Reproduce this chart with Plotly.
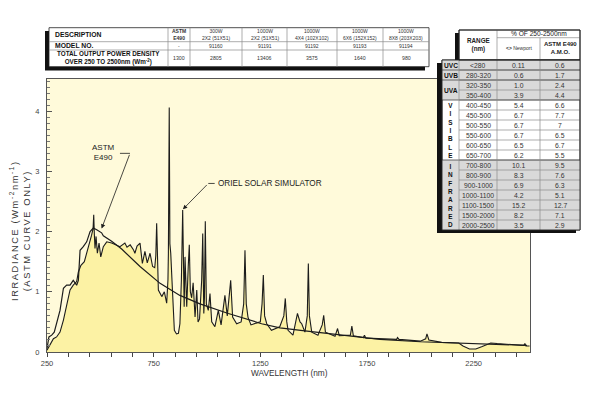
import plotly.graph_objects as go

# ---------------- data ----------------
sim_nm = [250, 264, 280, 295, 311, 327, 342, 358, 373, 389, 397, 409, 425, 436, 447, 459, 466, 469, 472,
          475, 480, 486, 494, 502, 514, 530, 553, 570, 592, 615, 625, 640, 655, 662, 672, 686, 697, 709,
          720, 733, 745, 755, 760, 764, 768, 772, 788, 800, 811, 817, 819, 823, 826, 830, 838, 847, 857,
          866, 873, 880, 886, 890, 893, 897, 901, 905, 912, 917, 922, 928, 935, 944, 952, 958, 965, 975,
          980, 985, 988, 992, 997, 1006, 1014, 1022, 1037, 1053, 1066, 1084, 1095, 1111, 1120, 1139, 1160,
          1172, 1178, 1184, 1192, 1206, 1230, 1250, 1258, 1264, 1270, 1280, 1302, 1341, 1360, 1367, 1374,
          1380, 1403, 1415, 1424, 1436, 1444, 1459, 1470, 1475, 1480, 1491, 1520, 1540, 1547, 1555, 1600,
          1612, 1620, 1672, 1679, 1686, 1733, 1738, 1745, 1889, 1893, 1900, 2000, 2025, 2031, 2040, 2100,
          2180, 2200, 2230, 2260, 2290, 2330, 2360, 2450, 2485, 2490, 2495, 2512]
sim_val = [0.03, 0.11, 0.22, 0.25, 0.33, 0.53, 0.75, 1.03, 1.11, 1.17, 1.33, 1.44, 1.50, 1.64, 1.75, 1.94,
           2.05, 2.28, 1.95, 1.72, 1.92, 1.64, 1.81, 1.58, 1.75, 1.83, 1.81, 1.78, 1.75, 1.81, 1.74, 1.78,
           1.70, 1.64, 1.76, 1.81, 1.47, 1.67, 1.48, 1.64, 1.42, 1.40, 1.60, 2.14, 1.40, 1.03, 0.92, 1.00,
           0.81, 1.20, 1.64, 4.06, 1.80, 1.64, 1.03, 0.36, 0.30, 0.31, 0.47, 1.20, 2.36, 1.20, 0.75, 1.58,
           0.90, 0.75, 1.42, 1.78, 1.00, 0.90, 1.15, 0.58, 1.03, 0.50, 0.55, 1.19, 1.97, 0.64, 0.90, 2.17,
           0.80, 0.69, 0.97, 0.50, 0.42, 0.69, 0.45, 0.94, 0.60, 1.19, 0.58, 0.47, 0.50, 0.80, 1.69, 0.80,
           0.58, 0.45, 0.48, 0.50, 0.80, 1.28, 0.60, 0.47, 0.36, 0.42, 0.60, 0.89, 0.50, 0.36, 0.28, 0.50,
           0.64, 0.50, 0.47, 0.33, 0.60, 1.47, 0.60, 0.33, 0.28, 0.45, 0.61, 0.33, 0.26, 0.39, 0.27, 0.28,
           0.43, 0.27, 0.24, 0.28, 0.23, 0.21, 0.24, 0.21, 0.18, 0.22, 0.30, 0.20, 0.16, 0.15, 0.10, 0.05,
           0.05, 0.09, 0.15, 0.14, 0.12, 0.11, 0.14, 0.10, 0.10]

astm_nm = [250, 259, 272, 284, 311, 327, 342, 358, 373, 389, 397, 405, 420, 436, 452, 467, 483, 506, 514,
           553, 600, 686, 780, 873, 967, 1100, 1256, 1342, 1459, 1600, 1811, 2000, 2250, 2500]
astm_val = [0.06, 0.25, 0.28, 0.33, 0.69, 1.06, 1.11, 1.11, 1.19, 1.11, 1.19, 1.69, 1.75, 1.83, 2.00, 2.06,
            2.03, 1.98, 1.93, 1.84, 1.71, 1.42, 1.14, 0.94, 0.80, 0.64, 0.47, 0.40, 0.35, 0.29, 0.21, 0.17,
            0.14, 0.11]

x_tick_labels = [250, 750, 1250, 1750, 2250]
y_tick_labels = [0, 1, 2, 3, 4]

# top table
top_headers = ["ASTM<br>E490", "300W<br>2X2 (51X51)", "1000W<br>2X2 (51X51)", "1000W<br>4X4 (102X102)",
               "1000W<br>6X6 (152X152)", "1000W<br>8X8 (203X203)"]
model_nos = ["-", "91160", "91191", "91192", "91193", "91194"]
power_density = ["1300", "2805", "13406", "3575", "1640", "980"]

# right table
bands = ["UVC", "UVB", "UVA", "V<br>I<br>S<br>I<br>B<br>L<br>E", "I<br>N<br>F<br>R<br>A<br>R<br>E<br>D"]
band_rows = [1, 1, 2, 6, 7]
band_shaded = [True, True, True, False, True]
ranges = ["<280", "280-320", "320-350", "350-400", "400-450", "450-500", "500-550", "550-600", "600-650",
          "650-700", "700-800", "800-900", "900-1000", "1000-1100", "1100-1500", "1500-2000", "2000-2500"]
newport_pct = ["0.11", "0.6", "1.0", "3.9", "5.4", "6.7", "6.7", "6.7", "6.5", "6.2", "10.1", "8.3", "6.9",
               "4.2", "15.2", "8.2", "3.5"]
astm_pct = ["0.6", "1.7", "2.4", "4.4", "6.6", "7.7", "7", "6.5", "6.7", "5.5", "9.5", "7.6", "6.3", "5.1",
            "12.7", "7.1", "2.9"]

# ---------------- style ----------------
FONT = "Liberation Sans, Arial, sans-serif"
PLOT_BG = "#FFFADA"
FILL = "#FCF2A4"
LINE = "#1c1c1c"
GRAY = "#D9D9D9"
OFF = 8                      # page body margin of the html page
L, R, T, B = 47, 530, 79, 352  # plot area in page pixels
W, H = 600 - OFF, 394 - OFF


def X(px):
    return (px - L) / (R - L)


def Y(py):
    return (B - py) / (B - T)


shapes = []
annotations = []


def rect(x0, y0, x1, y1, fill, lc="rgba(0,0,0,0)", lw=0):
    shapes.append(dict(type="rect", xref="paper", yref="paper", x0=X(x0), x1=X(x1), y0=Y(y1), y1=Y(y0),
                       fillcolor=fill, line=dict(color=lc, width=lw), layer="above"))


def seg(x0, y0, x1, y1, color="#8a8a8a", w=0.7):
    shapes.append(dict(type="line", xref="paper", yref="paper", x0=X(x0), x1=X(x1), y0=Y(y0), y1=Y(y1),
                       line=dict(color=color, width=w), layer="above"))


def text(px, py, s, size, color="#333", xanchor="center", angle=0):
    annotations.append(dict(xref="paper", yref="paper", x=X(px), y=Y(py), text=s, showarrow=False,
                            font=dict(size=size, family=FONT, color=color), xanchor=xanchor,
                            yanchor="middle", textangle=angle, borderpad=0))


# ---------------- figure ----------------
fig = go.Figure()
fig.add_trace(go.Scatter(x=sim_nm, y=sim_val, mode="lines", fill="tozeroy", fillcolor=FILL,
                         line=dict(color=LINE, width=1.1), hoverinfo="skip"))
fig.add_trace(go.Scatter(x=astm_nm, y=astm_val, mode="lines", line=dict(color=LINE, width=1.2),
                         hoverinfo="skip"))

# ---- top table ----
tcols = [49, 168, 190, 242, 287, 337, 383, 429]
trows = [27.7, 41.7, 50, 66.7]
rect(45, 31, 425, 70.5, "#111")
rect(tcols[0], trows[0], tcols[-1], trows[-1], "white", "#222", 0.8)
for yy in trows[1:-1]:
    seg(tcols[0], yy, tcols[-1], yy)
for xx in tcols[1:-1]:
    seg(xx, trows[0], xx, trows[-1])
text(54, 35, "<b>DESCRIPTION</b>", 6.8, "#111", xanchor="left")
text(54, 46, "<b>MODEL NO.</b>", 6.8, "#111", xanchor="left")
text(108.5, 58.4, "<b>TOTAL OUTPUT POWER DENSITY<br>OVER 250 TO 2500nm (Wm<sup>-2</sup>)</b>", 6.3, "#111")
for i in range(6):
    cx = (tcols[i + 1] + tcols[i + 2]) / 2
    hdr = "<b>" + top_headers[i] + "</b>" if i == 0 else top_headers[i]
    text(cx, 34.8, hdr, 5.0, "#333")
    text(cx, 46, model_nos[i], 5.0, "#333")
    text(cx, 58.4, power_density[i], 5.2, "#333")

# ---- right table ----
rc = [442, 459, 497, 540, 580]
hdr_top, body_top, rh = 30, 60, 10
n = len(ranges)
body_bot = body_top + rh * n
rect(455, hdr_top + 3, rc[-1] - 4, body_top + 2, "#111")
rect(437, body_top + 3, rc[-1] - 4, body_bot + 3, "#111")
rect(rc[1], hdr_top, rc[-1], body_top, "white", "#222", 0.8)
rect(rc[0], body_top, rc[-1], body_bot, "white", "#222", 0.8)
r0 = 0
for b, nr, sh in zip(bands, band_rows, band_shaded):
    ya, yb = body_top + r0 * rh, body_top + (r0 + nr) * rh
    if sh:
        rect(rc[0], ya, rc[-1], yb, GRAY)
    r0 += nr
for i in range(1, n):
    seg(rc[1], body_top + i * rh, rc[-1], body_top + i * rh)
r0 = 0
for nr in band_rows[:-1]:
    r0 += nr
    seg(rc[0], body_top + r0 * rh, rc[-1], body_top + r0 * rh, "#444", 0.8)
for xx in rc[1:-1]:
    seg(xx, body_top, xx, body_bot)
seg(rc[2], hdr_top + 7.7, rc[-1], hdr_top + 7.7)
seg(rc[2], hdr_top, rc[2], body_top)
seg(rc[3], hdr_top + 7.7, rc[3], body_top)
rect(rc[0], body_top, rc[-1], body_bot, "rgba(0,0,0,0)", "#222", 0.9)
rect(rc[1], hdr_top, rc[-1], body_top, "rgba(0,0,0,0)", "#222", 0.9)

text((rc[1] + rc[2]) / 2, 45, "<b>RANGE<br>(nm)</b>", 6.3, "#222")
text((rc[2] + rc[4]) / 2, 34, "% OF 250-2500nm", 6.6, "#222")
text((rc[2] + rc[3]) / 2, 48.5, "<b>&lt;&gt;</b> Newport", 5.0, "#333")
text((rc[3] + rc[4]) / 2, 48.5, "<b>ASTM E490<br>A.M.O.</b>", 6.0, "#222")
r0 = 0
for b, nr in zip(bands, band_rows):
    cy = body_top + (r0 + nr / 2) * rh
    text((rc[0] + rc[1]) / 2, cy + 0.3, "<b>" + b + "</b>", 6.6 if nr < 3 else 6.4, "#111")
    r0 += nr
for i in range(n):
    cy = body_top + (i + 0.5) * rh + 0.3
    text((rc[1] + rc[2]) / 2, cy, ranges[i].replace("<", "&lt;"), 6.8, "#333")
    text((rc[2] + rc[3]) / 2, cy, newport_pct[i], 6.8, "#333")
    text((rc[3] + rc[4]) / 2, cy, astm_pct[i], 6.8, "#333")

# ---- plot annotations ----
fig.add_annotation(x=517, y=3.31, xref="x", yref="y", text="ASTM<br>E490", showarrow=False,
                   font=dict(size=8, family=FONT, color="#222"))
shapes.append(dict(type="line", xref="x", yref="y", x0=592, x1=639, y0=3.30, y1=3.30,
                   line=dict(color=LINE, width=0.8)))
fig.add_annotation(x=506, y=2.05, ax=639, ay=3.30, xref="x", yref="y", axref="x", ayref="y", text="",
                   showarrow=True, arrowhead=2, arrowsize=1.1, arrowwidth=0.8, arrowcolor=LINE)
fig.add_annotation(x=1040, y=2.80, xref="x", yref="y", text="ORIEL SOLAR SIMULATOR", showarrow=False,
                   xanchor="left", font=dict(size=8.2, family=FONT, color="#222"))
shapes.append(dict(type="line", xref="x", yref="y", x0=1006, x1=1036, y0=2.80, y1=2.80,
                   line=dict(color=LINE, width=0.8)))
fig.add_annotation(x=887, y=2.37, ax=1006, ay=2.80, xref="x", yref="y", axref="x", ayref="y", text="",
                   showarrow=True, arrowhead=2, arrowsize=1.1, arrowwidth=0.8, arrowcolor=LINE)

# axis titles
text(20, 231, "<span style='letter-spacing:1.6px'>IRRADIANCE (Wm<sup>-2</sup>nm<sup>-1</sup>)</span><br>"
              "<span style='letter-spacing:1.6px'>(ASTM CURVE ONLY)</span>", 9.3, "#333", angle=-90)
text(289, 373, "WAVELENGTH (nm)", 8.3, "#333")

fig.update_layout(
    width=W, height=H, paper_bgcolor="white", plot_bgcolor=PLOT_BG, showlegend=False,
    margin=dict(l=L - OFF, r=W - (R - OFF), t=T - OFF, b=H - (B - OFF)),
    shapes=shapes, annotations=list(fig.layout.annotations) + annotations,
    font=dict(family=FONT, color="#444"),
)
fig.update_xaxes(range=[250, 2514], tickvals=x_tick_labels, ticks="outside", ticklen=4, tickcolor="#444",
                 tickfont=dict(size=7.5, color="#444"), showgrid=False, zeroline=False,
                 showline=True, linecolor="#555", linewidth=1, mirror=True,
                 minor=dict(dtick=100, tick0=250, ticks="outside", ticklen=4, tickcolor="#444"))
fig.update_yaxes(range=[0, 4.535], tickvals=y_tick_labels, ticks="inside", ticklen=5, tickcolor="#555",
                 tickfont=dict(size=7.5, color="#444"), showgrid=False, zeroline=False,
                 showline=True, linecolor="#555", linewidth=1, mirror=True, ticklabelstandoff=5,
                 minor=dict(dtick=0.1, ticks="inside", ticklen=3, tickcolor="#777"))

fig.write_html("out.html")
